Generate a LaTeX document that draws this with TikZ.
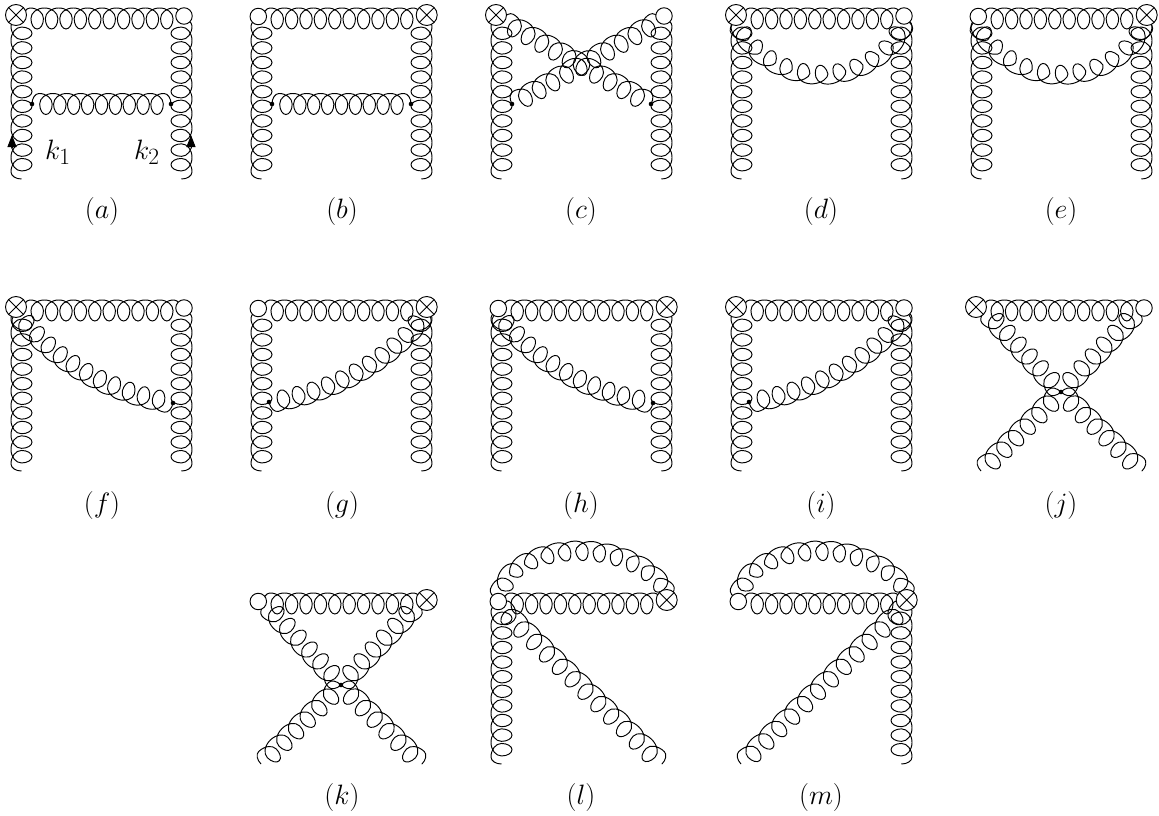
\documentclass[tikz,border=0pt]{standalone}
\usetikzlibrary{decorations,arrows.meta}
\def\gP#1#2{\pgfpoint{(#1)*1pt}{(#2)*\glA*1pt}}
\pgfdeclaredecoration{gluon}{init}{
  \state{init}[width=+0pt,next state=start,persistent precomputation={
    \pgfmathsetmacro\glM{7}
    \pgfmathsetmacro\glA{10.5}
    \pgfmathsetmacro\glS{(\pgfdecoratedpathlength-2*\glM)/\pgfdecorationsegmentlength}
    \pgfmathsetmacro\glD{(12.5+\glS)/2}
    \pgfmathsetmacro\glH{\glD-\glS/2}
    \pgfmathsetmacro\glWs{\glM+\glS-\glD}
    \pgfmathsetmacro\glWl{\glD+\glM}
    \pgfmathsetmacro\glSw{\glWl+0.5*\glS}
  }]{}
  \state{start}[width=\glWs pt,next state=coil]{
    \pgfpathcurveto{\gP{0}{.555}}{\gP{.445*\glM}{1}}{\gP{\glM}{1}}
    \pgfpathcurveto{\gP{\glM+.555*\glD}{1}}{\gP{\glM+\glD}{.555}}{\gP{\glM+\glD}{0}}
    \pgfpathcurveto{\gP{\glM+\glD}{-.555}}{\gP{\glM+\glS/2+.555*\glH}{-1}}{\gP{\glM+\glS/2}{-1}}
    \pgfpathcurveto{\gP{\glM+\glS/2-.555*\glH}{-1}}{\gP{\glWs}{-.555}}{\gP{\glWs}{0}}
  }
  \state{coil}[switch if less than=\glSw pt to last,width=\glS pt]{
    \pgfpathcurveto{\gP{0}{.555}}{\gP{.445*\glD}{1}}{\gP{\glD}{1}}
    \pgfpathcurveto{\gP{1.555*\glD}{1}}{\gP{2*\glD}{.555}}{\gP{2*\glD}{0}}
    \pgfpathcurveto{\gP{2*\glD}{-.555}}{\gP{\glS/2+\glD+.555*\glH-\glD+\glD-\glH+\glH}{-1}}{\gP{\glD+\glS/2}{-1}}
    \pgfpathcurveto{\gP{\glD+\glS/2-.555*\glH}{-1}}{\gP{\glS}{-.555}}{\gP{\glS}{0}}
  }
  \state{last}[width=\glWl pt,next state=final]{
    \pgfpathcurveto{\gP{0}{.555}}{\gP{.445*\glD}{1}}{\gP{\glD}{1}}
    \pgfpathcurveto{\gP{\glD+.555*\glM}{1}}{\gP{\glWl}{.555}}{\gP{\glWl}{0}}
  }
  \state{final}{\pgfpathlineto{\pgfpointdecoratedpathlast}}
}
\tikzset{
  gl/.style={decorate,decoration={name=gluon,segment length=#1pt}},
  crossn/.style={circle,draw,fill=white,inner sep=0pt,minimum size=21pt,line width=0.95pt,
    path picture={\draw[line width=0.95pt]
      (path picture bounding box.north west)--(path picture bounding box.south east)
      (path picture bounding box.north east)--(path picture bounding box.south west);}},
  circn/.style={circle,draw,fill=white,inner sep=0pt,minimum size=16.5pt,line width=0.95pt},
  dotn/.style={circle,fill=black,inner sep=0pt,minimum size=4.6pt},
  lab/.style={font=\Huge,scale=1.125,inner sep=0pt},
  arr/.style={line width=0.95pt,-{Triangle[length=12pt,width=9pt]}}
}
\newcommand\gframe{%
  \coordinate (LB) at (21.5,179); \coordinate (LT) at (21.5,19);
  \coordinate (RT) at (181.5,19); \coordinate (RB) at (181.5,179);
  \coordinate (TL) at (23,18.5);  \coordinate (TR) at (181,18.5);
  \coordinate (AL) at (17,20);    \coordinate (AR) at (186,20);
  \coordinate (DL) at (32,104);   \coordinate (DR) at (171,104);
  \coordinate (FD) at (173,111);  \coordinate (GD) at (29,110);
  \coordinate (C) at (101,100);   \coordinate (UL) at (25,19); \coordinate (UR) at (178,19);
  \coordinate (XL) at (21,179);   \coordinate (XR) at (182,179);
  \coordinate (CS) at (22,20);    \coordinate (CE) at (181,20);
  \coordinate (P) at (18,14);     \coordinate (Q) at (187,14);
  \coordinate (SL) at (18,20);    \coordinate (SR) at (186,20);}
\newcommand\legL{\draw[gl=10] (LB)--(LT);}
\newcommand\legR{\draw[gl=10] (RT)--(RB);}
\newcommand\topg{\draw[gl=10] (TL)--(TR);}
\newcommand\capsA{\node[crossn] (cr) at (16,15) {}; \node[circn] (ci) at (184,16) {};}
\newcommand\capsB{\node[circn] (ci) at (18.3,16.5) {}; \node[crossn] (cr) at (186.7,15) {};}
\newcommand\dotp[1]{\node[dotn] (d#1) at (#1) {};}
\newcommand\midg{\draw[gl=9] (DL)--(DR); \dotp{DL} \dotp{DR}}
\newcommand\arcg{\draw[gl=11] (AR) .. controls (150,90) and (52,90) .. (AL);}
\newcommand\downg{\draw[gl=11] (FD) .. controls (110,100) and (55,70) .. (AL); \dotp{FD}}
\newcommand\upg{\draw[gl=11] (AR) .. controls (149,70) and (92,100) .. (GD); \dotp{GD}}
\newcommand\xg{\draw[gl=6] (C)--(UL); \draw[gl=6] (UR)--(C); \draw[gl=6] (XL)--(C); \draw[gl=6] (C)--(XR); \dotp{C}}
\newcommand\arcl{\draw[gl=11] (P) .. controls (40,-48) and (160,-48) .. (Q);}
\begin{document}
\begin{tikzpicture}[x=1pt,y=-1pt,line width=0.95pt]
\useasboundingbox (0,0) rectangle (1159,816);
% (a)
\begin{scope}[shift={(0,0)}]\gframe\legL\legR\topg\midg\capsA
  \node[lab] (k1) at (58,152) {$k_1$}; \node[lab] (k2) at (147,152) {$k_2$};
  \coordinate (a1) at (12,148); \coordinate (a2) at (12,135);
  \coordinate (b1) at (191,148); \coordinate (b2) at (191,135);
  \draw[arr] (a1)--(a2); \draw[arr] (b1)--(b2);
  \node[lab] (la) at (102,212) {$(a)$};
\end{scope}
% (b)
\begin{scope}[shift={(240,0)}]\gframe\legL\legR\topg\midg\capsB\node[lab] (lb) at (102,212) {$(b)$};\end{scope}
% (c)
\begin{scope}[shift={(480,0)}]\gframe\legL\legR
  \draw[gl=10] (CS)--(DR);
  \draw[gl=10] (DL)--(CE);
  \dotp{DL}\dotp{DR}\capsA\node[lab] (lc) at (101,212) {$(c)$};\end{scope}
% (d)
\begin{scope}[shift={(720,0)}]\gframe\legL\legR\topg\arcg\capsA\node[lab] (ld) at (101,212) {$(d)$};\end{scope}
% (e)
\begin{scope}[shift={(960,0)}]\gframe\legL\legR\topg\arcg\capsB\node[lab] (le) at (101,212) {$(e)$};\end{scope}
% (f)
\begin{scope}[shift={(0,292)}]\gframe\legL\legR\topg\downg\capsA\node[lab] (lf) at (102,213) {$(f)$};\end{scope}
% (g)
\begin{scope}[shift={(240,292)}]\gframe\legL\legR\topg\upg\capsB\node[lab] (lg) at (102,213) {$(g)$};\end{scope}
% (h)
\begin{scope}[shift={(480,292)}]\gframe\legL\legR\topg\downg\capsB\node[lab] (lh) at (101,213) {$(h)$};\end{scope}
% (i)
\begin{scope}[shift={(720,292)}]\gframe\legL\legR\topg\upg\capsA\node[lab] (li) at (101,213) {$(i)$};\end{scope}
% (j)
\begin{scope}[shift={(960,292)}]\gframe\topg\xg\capsA\node[lab] (lj) at (101,213) {$(j)$};\end{scope}
% (k)
\begin{scope}[shift={(240,585)}]\gframe\topg\xg\capsB\node[lab] (lk) at (102,212) {$(k)$};\end{scope}
% (l)
\begin{scope}[shift={(480,585)}]\gframe\legL\topg\arcl
  \draw[gl=12] (SL)--(XR);
  \capsB\node[lab] (ll) at (101,212) {$(l)$};\end{scope}
% (m)
\begin{scope}[shift={(720,585)}]\gframe\legR\topg\arcl
  \draw[gl=12] (XL)--(SR);
  \capsB\node[lab] (lm) at (101,212) {$(m)$};\end{scope}
\end{tikzpicture}
\end{document}
